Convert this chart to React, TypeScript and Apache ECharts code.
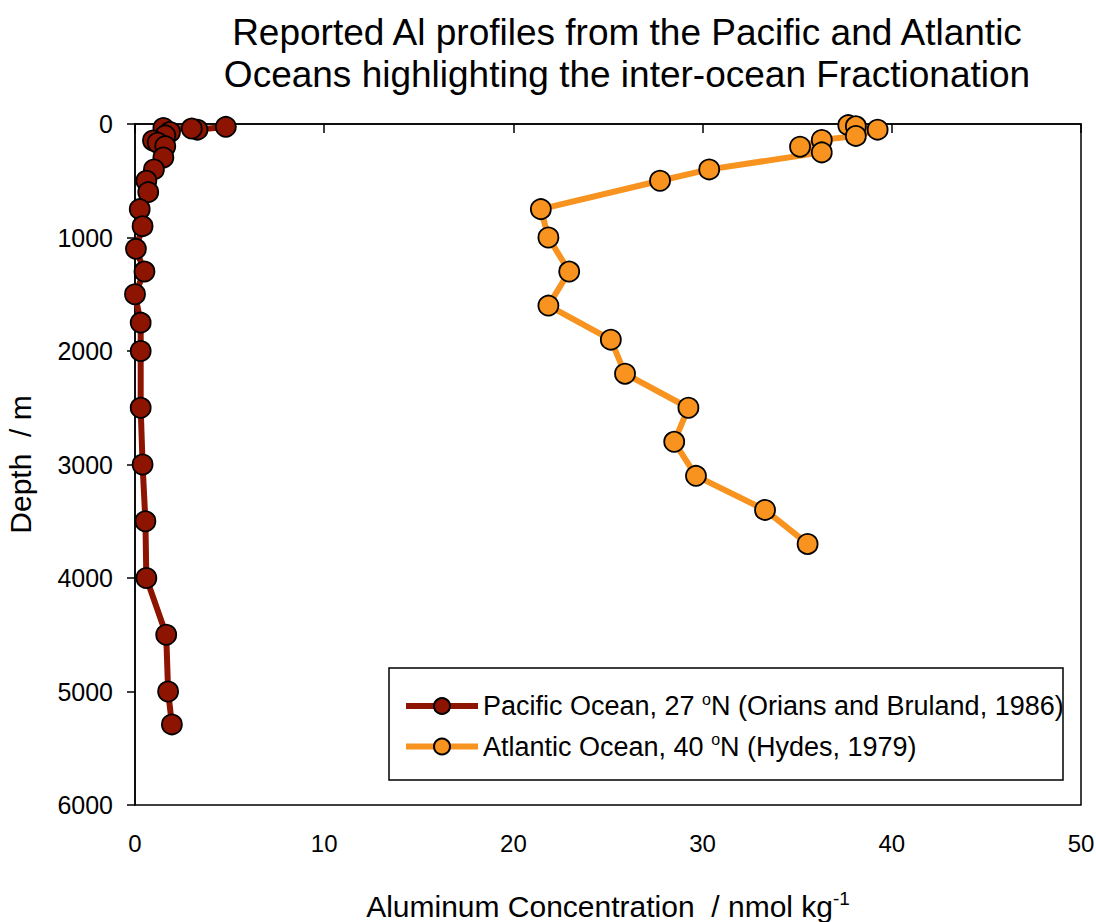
import React, { useEffect, useRef } from "react";
import * as echarts from "echarts";

const pacificAl = [4.8, 3.3, 3.0, 1.5, 1.85, 1.6, 0.95, 1.2, 1.6, 1.5, 1.0, 0.6, 0.7, 0.25, 0.4, 0.05, 0.5, 0.0, 0.3, 0.3, 0.3, 0.4, 0.55, 0.6, 1.65, 1.75, 1.95];
const pacificDepth = [25, 50, 40, 35, 70, 100, 145, 165, 195, 295, 400, 500, 600, 750, 900, 1100, 1300, 1500, 1750, 2000, 2500, 3000, 3500, 4000, 4500, 5000, 5290];

const atlanticAl = [37.7, 38.1, 39.25, 38.1, 36.3, 35.15, 36.3, 30.35, 27.75, 21.45, 21.85, 22.95, 21.85, 25.15, 25.9, 29.25, 28.5, 29.65, 33.3, 35.55];
const atlanticDepth = [10, 20, 50, 105, 140, 200, 250, 400, 500, 750, 1000, 1300, 1600, 1900, 2200, 2500, 2800, 3100, 3400, 3700];

const xTicks = [0, 50, 10];
const yTicks = [0, 6000, 1000];

const titleLines = [
  "Reported Al profiles from the Pacific and Atlantic",
  "Oceans highlighting the inter-ocean Fractionation",
];

const legendLabels: Record<string, string> = {
  Pacific: "Pacific Ocean, 27 {sup|o}N (Orians and Bruland, 1986)",
  Atlantic: "Atlantic Ocean, 40 {sup|o}N (Hydes, 1979)",
};

const FONT = "'Liberation Sans', Arial, sans-serif";

export default function App() {
  const ref = useRef<HTMLDivElement>(null);
  useEffect(() => {
    if (!ref.current) return;
    const chart = echarts.init(ref.current, null, { renderer: "svg" });
    const pac = pacificAl.map((v, i) => [v, pacificDepth[i]]);
    const atl = atlanticAl.map((v, i) => [v, atlanticDepth[i]]);
    chart.setOption({
      animation: false,
      backgroundColor: "#ffffff",
      textStyle: { fontFamily: FONT, color: "#000" },
      title: {
        text: titleLines.join("\n"),
        left: 622,
        top: 6,
        textAlign: "center",
        textStyle: { fontFamily: FONT, fontSize: 37, fontWeight: "normal", color: "#000", lineHeight: 42 },
      },
      grid: {
        left: 135,
        right: 15,
        top: 124,
        bottom: 117,
        show: true,
        borderColor: "#000",
        borderWidth: 1.5,
        backgroundColor: "transparent",
        containLabel: false,
        outerBoundsMode: "none",
      },
      xAxis: {
        type: "value",
        min: xTicks[0],
        max: xTicks[1],
        interval: xTicks[2],
        name: "Aluminum Concentration  / nmol kg{sup|-1}",
        nameLocation: "middle",
        nameGap: 84,
        nameTextStyle: {
          fontFamily: FONT,
          fontSize: 30,
          color: "#000",
          rich: {
            sup: { fontSize: 19, verticalAlign: "top", padding: [0, 0, 16, 0], fontFamily: FONT, color: "#000" },
          },
        },
        axisLine: { show: true, lineStyle: { color: "#000", width: 1.5 } },
        axisTick: { show: true, inside: false, length: 9, lineStyle: { color: "#000", width: 1.5 } },
        axisLabel: { fontFamily: FONT, fontSize: 24, color: "#000", margin: 26 },
        splitLine: { show: false },
      },
      yAxis: {
        type: "value",
        inverse: true,
        min: yTicks[0],
        max: yTicks[1],
        interval: yTicks[2],
        name: "Depth  / m",
        nameLocation: "middle",
        nameGap: 100,
        nameRotate: 90,
        nameTextStyle: { fontFamily: FONT, fontSize: 30, color: "#000" },
        axisLine: { show: true, lineStyle: { color: "#000", width: 1.5 } },
        axisTick: { show: true, inside: false, length: 8, lineStyle: { color: "#000", width: 1.5 } },
        axisLabel: { fontFamily: FONT, fontSize: 25, color: "#000", margin: 22, formatter: (v: number) => String(v) },
        splitLine: { show: false },
      },
      legend: {
        orient: "vertical",
        left: 398,
        top: 686,
        itemWidth: 72,
        itemHeight: 20,
        itemGap: 12,
        data: ["Pacific", "Atlantic"],
        formatter: (name: string) => legendLabels[name],
        lineStyle: { width: 6 },
        textStyle: {
          fontFamily: FONT,
          fontSize: 27,
          color: "#000",
          rich: {
            sup: { fontSize: 16, verticalAlign: "top", padding: [0, 0, 14, 0], fontFamily: FONT, color: "#000" },
          },
        },
      },
      graphic: [
        {
          type: "rect",
          shape: { x: 389, y: 668, width: 674, height: 112 },
          style: { fill: "#fff", stroke: "#000", lineWidth: 1.5 },
          z: 1,
        },
      ],
      series: [
        {
          name: "Pacific",
          type: "line",
          data: pac,
          symbol: "circle",
          symbolSize: 20,
          lineStyle: { color: "#8c1400", width: 6 },
          itemStyle: { color: "#8c1400", borderColor: "#000", borderWidth: 1.8 },
          z: 3,
        },
        {
          name: "Atlantic",
          type: "line",
          data: atl,
          symbol: "circle",
          symbolSize: 20,
          lineStyle: { color: "#f7931e", width: 6 },
          itemStyle: { color: "#f7931e", borderColor: "#000", borderWidth: 1.8 },
          z: 3,
        },
      ],
    });
    return () => chart.dispose();
  }, []);
  return <div ref={ref} style={{ position: "fixed", left: 0, top: 0, width: 1096, height: 922 }} />;
}
